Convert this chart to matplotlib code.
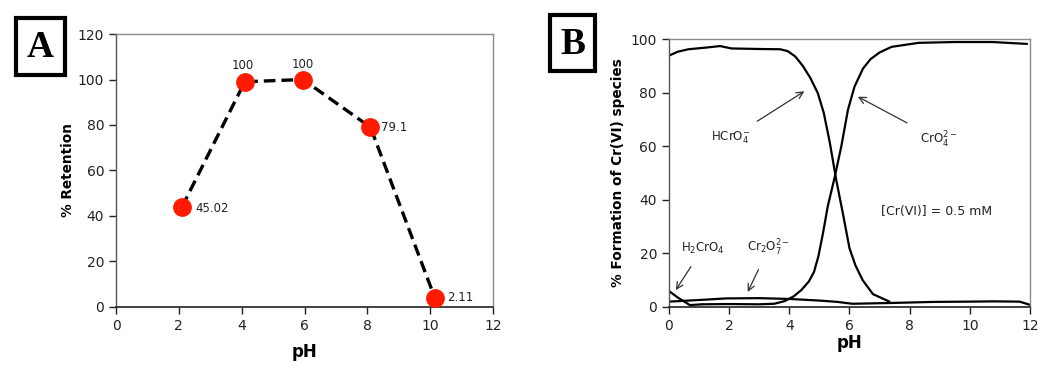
import matplotlib
matplotlib.use("Agg")
import matplotlib.pyplot as plt
from matplotlib.patches import Rectangle

# ---------------- Panel A data ----------------
ph_a = [2.1, 4.1, 5.95, 8.1, 10.15]
retention = [44.0, 99.0, 100.0, 79.0, 4.0]
retention_labels = ["45.02", "100", "100", "79.1", "2.11"]

# ---------------- Panel B data ----------------
hcro4_ph = [0.0, 0.3, 0.65, 1.3, 1.7, 2.08, 3.0, 3.7, 3.95, 4.2, 4.45, 4.7, 4.95,
            5.15, 5.35, 5.56, 5.78, 6.0, 6.2, 6.44, 6.78, 7.33]
hcro4_pct = [93.8, 95.3, 96.2, 96.9, 97.4, 96.5, 96.3, 96.2, 95.5, 93.5, 90.0, 85.5, 79.8,
             72.3, 61.2, 47.5, 35.0, 22.0, 15.5, 10.0, 4.8, 2.0]

h2cro4_ph = [0.0, 0.3, 0.7, 1.1]
h2cro4_pct = [6.0, 3.5, 0.7, 1.0]

cro4_ph = [1.1, 2.0, 3.0, 3.5, 3.85, 4.15, 4.4, 4.65, 4.82, 4.97, 5.12, 5.28, 5.5, 5.73,
           5.95, 6.17, 6.45, 6.7, 7.0, 7.4, 8.3, 9.5, 10.75, 11.9]
cro4_pct = [1.0, 1.1, 1.0, 1.2, 2.2, 4.0, 6.3, 9.5, 13.0, 19.0, 27.5, 37.6, 48.0, 60.0,
            73.6, 82.3, 89.0, 92.5, 95.0, 97.1, 98.6, 98.9, 98.9, 98.2]

cr2o7_ph = [0.0, 1.0, 1.9, 3.0, 4.0, 5.0, 5.6, 6.1, 7.4, 8.8, 10.0, 10.8, 11.65, 12.0]
cr2o7_pct = [2.0, 2.6, 3.2, 3.3, 3.0, 2.4, 1.9, 1.2, 1.5, 1.9, 2.0, 2.1, 2.0, 0.8]

ticks_x = [0, 2, 4, 6, 8, 10, 12]
ticks_ya = [0, 20, 40, 60, 80, 100, 120]
ticks_yb = [0, 20, 40, 60, 80, 100]

plt.rcParams['font.family'] = ['DejaVu Sans']

fig = plt.figure(figsize=(10.5, 3.68), dpi=100)
fig.patch.set_facecolor('white')

def style_axes(ax):
    for side in ['top', 'right']:
        ax.spines[side].set_color('#8a8a8a')
        ax.spines[side].set_linewidth(1.0)
    ax.spines['left'].set_color('#555555')
    ax.spines['left'].set_linewidth(1.0)
    ax.spines['bottom'].set_color('#222222')
    ax.spines['bottom'].set_linewidth(1.2)
    ax.tick_params(direction='out', length=5, width=1.0, labelsize=10,
                   colors='#222222')

# ---------- Panel A ----------
axA = fig.add_axes([0.1105, 0.1658, 0.359, 0.7418])
axA.plot(ph_a, retention, linestyle=(0, (3.5, 1.8)), color='black', lw=2.4,
         marker='o', markersize=12.5, markerfacecolor='#ff1a00',
         markeredgecolor='#ff1a00', zorder=3)
offsets = [(0.42, -0.5, 'left'), (-0.05, 7, 'center'), (0.0, 6.5, 'center'),
           (0.35, 0, 'left'), (0.4, 0, 'left')]
for x, y, lab, (dx, dy, ha) in zip(ph_a, retention, retention_labels, offsets):
    axA.text(x + dx, y + dy, lab, fontsize=8.5, ha=ha, va='center', color='#222222')
axA.set_xlim(0, 12)
axA.set_ylim(0, 120)
axA.set_xticks(ticks_x)
axA.set_yticks(ticks_ya)
axA.set_xlabel('pH', fontsize=12, fontweight='bold', labelpad=7)
axA.set_ylabel('% Retention', fontsize=9.8, fontweight='bold', labelpad=2)
style_axes(axA)

# ---------- Panel B ----------
axB = fig.add_axes([0.637, 0.1658, 0.344, 0.728])
for xs, ys in [(hcro4_ph, hcro4_pct), (h2cro4_ph, h2cro4_pct),
               (cro4_ph, cro4_pct), (cr2o7_ph, cr2o7_pct)]:
    axB.plot(xs, ys, color='black', lw=1.6, solid_capstyle='round',
             solid_joinstyle='round')
axB.set_xlim(0, 12)
axB.set_ylim(0, 100)
axB.set_xticks(ticks_x)
axB.set_yticks(ticks_yb)
axB.set_xlabel('pH', fontsize=12, fontweight='bold', labelpad=1)
axB.set_ylabel('% Formation of Cr(VI) species', fontsize=9.8, fontweight='bold',
               labelpad=4)
style_axes(axB)

arrow_kw = dict(arrowstyle='->', color='#333333', lw=0.9, mutation_scale=12)
axB.annotate('HCrO$_4^{-}$', xy=(4.5, 80.5), xytext=(2.05, 63),
             fontsize=8.5, ha='center', va='center', color='#222222',
             arrowprops=dict(**arrow_kw, shrinkA=8, shrinkB=0))
axB.annotate('CrO$_4^{2-}$', xy=(6.28, 78.5), xytext=(8.95, 62.5),
             fontsize=8.5, ha='center', va='center', color='#222222',
             arrowprops=dict(**arrow_kw, shrinkA=8, shrinkB=0))
axB.annotate('H$_2$CrO$_4$', xy=(0.23, 6.3), xytext=(1.13, 22.0),
             fontsize=8.5, ha='center', va='center', color='#222222',
             arrowprops=dict(**arrow_kw, shrinkA=7, shrinkB=0))
axB.annotate('Cr$_2$O$_7^{2-}$', xy=(2.62, 5.6), xytext=(3.32, 22.0),
             fontsize=8.5, ha='center', va='center', color='#222222',
             arrowprops=dict(**arrow_kw, shrinkA=7, shrinkB=0))
axB.text(8.9, 35.6, '[Cr(VI)] = 0.5 mM', fontsize=9, ha='center', va='center',
         color='#222222')

# ---------- Panel letters ----------
for (l, b, w, h), letter in [((0.0152, 0.796, 0.0467, 0.155), 'A'),
                             ((0.5238, 0.807, 0.0429, 0.152), 'B')]:
    fig.patches.append(Rectangle((l, b), w, h, transform=fig.transFigure,
                                 fill=False, edgecolor='black', lw=3.0))
    fig.text(l + w / 2, b + h / 2 - 0.003, letter, fontsize=27, fontweight='bold',
             family='Liberation Serif', ha='center', va='center')

fig.savefig('out.png', dpi=100)
